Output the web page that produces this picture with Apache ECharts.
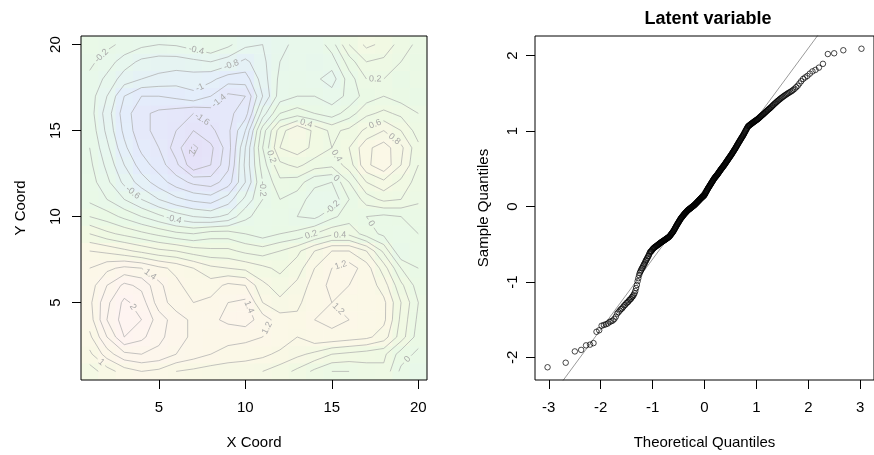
<!DOCTYPE html>
<html><head><meta charset="utf-8">
<script src="https://cdn.jsdelivr.net/npm/echarts@6/dist/echarts.min.js"></script>
<style>html,body{margin:0;padding:0;background:#fff}#c{width:874px;height:455px}</style>
</head><body><div id="c"></div>
<script>
// ---------------- DATA ----------------
const xCoords = [1,2,3,4,5,6,7,8,9,10,11,12,13,14,15,16,17,18,19,20];
const yCoords = [1,2,3,4,5,6,7,8,9,10,11,12,13,14,15,16,17,18,19,20];
// latent surface, one row per Y coordinate (values for X = 1..20)
const z_y20 = [-0.05,-0.15,-0.25,-0.35,-0.4,-0.38,-0.3,-0.2,-0.35,-0.55,-0.6,-0.45,-0.35,-0.35,-0.1,0.4,0.65,0.55,0.3,0.15];
const z_y19 = [-0.15,-0.3,-0.5,-0.65,-0.7,-0.7,-0.65,-0.6,-0.7,-0.85,-0.65,-0.4,-0.3,-0.4,-0.3,0.1,0.4,0.35,0.2,0.1];
const z_y18 = [-0.25,-0.45,-0.7,-0.8,-0.85,-0.9,-0.9,-0.95,-1.1,-1.1,-0.7,-0.35,-0.25,-0.35,-0.5,-0.1,0.2,0.2,0.0,0.15];
const z_y17 = [-0.3,-0.6,-1.0,-1.2,-1.2,-1.15,-1.05,-1.2,-1.45,-1.4,-0.8,-0.3,-0.2,-0.2,-0.3,-0.15,0.1,0.2,0.1,0.0];
const z_y16 = [-0.3,-0.7,-1.1,-1.35,-1.45,-1.5,-1.6,-1.5,-1.45,-1.3,-0.5,0.0,0.1,0.0,-0.1,0.1,0.35,0.45,0.35,0.2];
const z_y15 = [-0.25,-0.65,-1.05,-1.35,-1.45,-1.6,-1.8,-1.65,-1.45,-1.0,-0.1,0.5,0.8,0.55,0.35,0.45,0.65,0.8,0.6,0.3];
const z_y14 = [-0.2,-0.55,-0.95,-1.25,-1.4,-1.7,-2.05,-1.85,-1.5,-0.8,0.0,0.6,0.7,0.55,0.4,0.6,0.95,1.1,0.85,0.45];
const z_y13 = [-0.15,-0.45,-0.8,-1.1,-1.3,-1.55,-1.95,-1.8,-1.45,-0.75,-0.1,0.35,0.45,0.3,0.25,0.5,0.95,1.15,0.8,0.4];
const z_y12 = [-0.1,-0.35,-0.65,-0.9,-1.1,-1.3,-1.45,-1.5,-1.3,-0.8,-0.2,0.15,0.1,-0.15,-0.2,0.2,0.6,0.75,0.55,0.3];
const z_y11 = [-0.05,-0.2,-0.4,-0.6,-0.8,-0.95,-1.05,-1.1,-0.9,-0.55,-0.2,0.0,-0.1,-0.3,-0.35,0.0,0.3,0.45,0.4,0.25];
const z_y10 = [0.2,0.1,-0.05,-0.2,-0.35,-0.5,-0.6,-0.65,-0.55,-0.25,-0.1,-0.05,-0.2,-0.25,-0.05,0.1,0.0,-0.05,0.0,0.05];
const z_y09 = [0.6,0.45,0.35,0.25,0.15,0.05,0.0,0.1,0.1,0.0,-0.1,0.0,0.05,0.2,0.35,0.35,0.1,-0.05,-0.1,0.0];
const z_y08 = [1.0,0.95,0.85,0.75,0.65,0.6,0.5,0.45,0.45,0.35,0.3,0.4,0.55,0.8,1.0,1.0,0.8,0.35,-0.2,-0.05];
const z_y07 = [1.2,1.35,1.45,1.4,1.25,1.15,1.0,0.85,0.8,0.75,0.65,0.55,0.7,1.0,1.2,1.3,1.1,0.7,0.2,0.0];
const z_y06 = [1.3,1.6,1.85,1.75,1.45,1.25,1.1,1.1,1.25,1.2,0.85,0.7,0.85,1.1,1.25,1.2,1.15,0.9,0.45,0.1];
const z_y05 = [1.35,1.75,2.05,1.9,1.5,1.3,1.2,1.25,1.4,1.45,1.0,0.85,0.95,1.15,1.2,1.15,1.15,1.05,0.6,0.2];
const z_y04 = [1.3,1.8,2.1,2.0,1.7,1.5,1.35,1.35,1.45,1.5,1.3,1.1,1.05,1.2,1.25,1.2,1.15,1.05,0.55,0.15];
const z_y03 = [1.15,1.6,2.0,1.85,1.65,1.5,1.35,1.25,1.25,1.25,1.2,1.15,1.0,1.15,1.15,1.1,1.05,0.9,0.5,0.1];
const z_y02 = [0.95,1.3,1.55,1.6,1.55,1.4,1.3,1.2,1.15,1.1,1.05,0.95,0.85,0.75,0.6,0.55,0.5,0.45,0.1,-0.05];
const z_y01 = [0.7,0.9,1.1,1.2,1.15,1.0,0.95,0.9,0.85,0.85,0.8,0.7,0.55,0.35,0.2,0.2,0.3,0.35,-0.05,-0.2];
const contourLevels = [-2.0,-1.8,-1.6,-1.4,-1.2,-1.0,-0.8,-0.6,-0.4,-0.2,0,0.2,0.4,0.6,0.8,1.0,1.2,1.4,1.6,1.8,2.0];
const leftXTicks = [5,10,15,20];
const leftYTicks = [5,10,15,20];
// QQ plot: sample values of the latent variable (n = 400)
const sampleQuantiles = [
-2.13,-2.07,-1.92,-1.90,-1.84,-1.83,-1.81,-1.66,-1.64,
-1.58,-1.57,-1.56,-1.55,-1.53,-1.52,-1.51,-1.49,-1.46,-1.42,-1.40,
-1.38,-1.36,-1.35,-1.33,-1.31,-1.30,-1.28,-1.27,-1.26,-1.24,-1.23,-1.22,-1.20,-1.19,-1.17,-1.15,-1.12,-1.08,-1.04,-0.99,-0.95,-0.91,-0.88,-0.86,
-0.84,-0.82,-0.81,-0.79,-0.77,-0.76,
-0.74,-0.72,-0.71,-0.69,-0.68,-0.66,-0.65,-0.63,-0.61,-0.60,
-0.595,-0.59,-0.575,-0.565,-0.56,-0.55,-0.545,-0.54,-0.535,-0.53,
-0.525,-0.52,-0.515,-0.51,-0.505,-0.50,-0.495,-0.49,-0.485,-0.48,
-0.476,-0.472,-0.468,-0.464,-0.46,-0.456,-0.452,-0.448,-0.444,-0.44,
-0.436,-0.432,-0.428,-0.424,-0.42,-0.416,-0.412,-0.408,-0.404,-0.40,
-0.393,-0.386,-0.379,-0.372,-0.365,-0.358,-0.351,-0.344,-0.337,-0.33,
-0.321,-0.312,-0.303,-0.294,-0.285,-0.276,-0.267,-0.258,-0.249,-0.24,
-0.232,-0.224,-0.216,-0.208,-0.2,-0.192,-0.184,-0.176,-0.168,-0.16,
-0.154,-0.148,-0.142,-0.136,-0.13,-0.124,-0.118,-0.112,-0.106,-0.1,
-0.095,-0.09,-0.085,-0.08,-0.075,-0.07,-0.065,-0.06,-0.055,-0.05,
-0.047,-0.043,-0.04,-0.036,-0.033,-0.029,-0.026,-0.022,-0.019,-0.015,
-0.011,-0.008,-0.004,-0.001,0.003,0.006,0.01,0.013,0.017,0.02,
0.025,0.029,0.034,0.038,0.043,0.047,0.052,0.056,0.061,0.065,
0.07,0.074,0.079,0.083,0.088,0.092,0.097,0.101,0.106,0.11,
0.114,0.118,0.122,0.126,0.13,0.134,0.138,0.142,0.146,0.15,
0.158,0.166,0.174,0.182,0.19,0.198,0.206,0.214,0.222,0.23,
0.237,0.244,0.251,0.258,0.265,0.272,0.279,0.286,0.293,0.3,
0.307,0.314,0.321,0.328,0.335,0.342,0.349,0.356,0.363,0.37,
0.376,0.381,0.387,0.392,0.398,0.403,0.409,0.414,0.42,0.425,
0.432,0.438,0.445,0.451,0.458,0.464,0.471,0.477,0.484,0.49,
0.496,0.502,0.508,0.514,0.52,0.526,0.532,0.538,0.544,0.55,
0.557,0.564,0.571,0.578,0.585,0.592,0.599,0.606,0.613,0.62,
0.627,0.634,0.641,0.648,0.655,0.662,0.669,0.676,0.683,0.69,
0.698,0.706,0.714,0.722,0.73,0.738,0.746,0.754,0.762,0.77,
0.779,0.788,0.797,0.806,0.815,0.824,0.833,0.842,0.851,0.86,
0.869,0.878,0.887,0.896,0.905,0.914,0.923,0.932,0.941,0.95,
0.961,0.972,0.983,0.994,1.005,1.016,1.027,1.038,1.049,1.06,
1.065,1.07,1.075,1.08,1.085,1.09,1.095,1.1,1.105,1.11,
1.115,1.12,1.125,1.13,1.135,1.14,1.145,1.15,1.155,1.16,
1.167,1.174,1.181,1.188,1.195,1.202,1.209,1.216,1.223,1.23,
1.238,1.246,1.254,1.262,1.27,1.278,1.286,1.294,1.302,1.31,
1.32,1.33,1.34,1.35,1.36,1.37,1.38,1.39,1.4,1.41,
1.42,1.43,1.44,1.45,1.46,1.47,1.48,1.49,1.5,1.51,
1.52,1.53,1.545,1.56,1.58,1.6,1.63,1.66,1.69,1.71,
1.73,1.76,1.79,1.81,1.84,1.89,2.02,2.03,2.07,2.09];
const qqXTicks = [-3,-2,-1,0,1,2,3];
const qqYTicks = [-2,-1,0,1,2];

// ---------------- HELPERS ----------------
const FONT = '"Liberation Sans", Arial, Helvetica, sans-serif';
const zRows = [z_y01,z_y02,z_y03,z_y04,z_y05,z_y06,z_y07,z_y08,z_y09,z_y10,z_y11,z_y12,z_y13,z_y14,z_y15,z_y16,z_y17,z_y18,z_y19,z_y20];

function qnorm(p){
  const a=[-3.969683028665376e+01,2.209460984245205e+02,-2.759285104469687e+02,1.383577518672690e+02,-3.066479806614716e+01,2.506628277459239e+00];
  const b=[-5.447609879822406e+01,1.615858368580409e+02,-1.556989798598866e+02,6.680131188771972e+01,-1.328068155288572e+01];
  const c=[-7.784894002430293e-03,-3.223964580411365e-01,-2.400758277161838e+00,-2.549732539343734e+00,4.374664141464968e+00,2.938163982698783e+00];
  const d=[7.784695709041462e-03,3.224671290700398e-01,2.445134137142996e+00,3.754408661907416e+00];
  const pl=0.02425, ph=1-pl; let q,r;
  if(p<pl){q=Math.sqrt(-2*Math.log(p));return (((((c[0]*q+c[1])*q+c[2])*q+c[3])*q+c[4])*q+c[5])/((((d[0]*q+d[1])*q+d[2])*q+d[3])*q+1);}
  if(p<=ph){q=p-0.5;r=q*q;return (((((a[0]*r+a[1])*r+a[2])*r+a[3])*r+a[4])*r+a[5])*q/(((((b[0]*r+b[1])*r+b[2])*r+b[3])*r+b[4])*r+1);}
  q=Math.sqrt(-2*Math.log(1-p));return -(((((c[0]*q+c[1])*q+c[2])*q+c[3])*q+c[4])*q+c[5])/((((d[0]*q+d[1])*q+d[2])*q+d[3])*q+1);
}

// heat cells
const cells=[];
for(let j=0;j<yCoords.length;j++) for(let i=0;i<xCoords.length;i++) cells.push([xCoords[i],yCoords[j],zRows[j][i]]);

// marching squares contours
function contourPaths(L0){
  const L=L0+1e-9, nx=xCoords.length, ny=yCoords.length, segs=[];
  for(let j=0;j<ny-1;j++) for(let i=0;i<nx-1;i++){
    const z0=zRows[j][i], z1=zRows[j][i+1], z2=zRows[j+1][i+1], z3=zRows[j+1][i];
    const x0=xCoords[i], x1=xCoords[i+1], y0=yCoords[j], y1=yCoords[j+1];
    const b0=z0>=L,b1=z1>=L,b2=z2>=L,b3=z3>=L;
    const E=[null,null,null,null];
    if(b0!==b1) E[0]={k:'h'+i+'_'+j, p:[x0+(L-z0)/(z1-z0)*(x1-x0), y0]};
    if(b1!==b2) E[1]={k:'v'+(i+1)+'_'+j, p:[x1, y0+(L-z1)/(z2-z1)*(y1-y0)]};
    if(b3!==b2) E[2]={k:'h'+i+'_'+(j+1), p:[x0+(L-z3)/(z2-z3)*(x1-x0), y1]};
    if(b0!==b3) E[3]={k:'v'+i+'_'+j, p:[x0, y0+(L-z0)/(z3-z0)*(y1-y0)]};
    const idx=[0,1,2,3].filter(e=>E[e]);
    if(idx.length===2) segs.push([E[idx[0]],E[idx[1]]]);
    else if(idx.length===4){
      const c=(z0+z1+z2+z3)/4>=L;
      if(b0){ if(c){segs.push([E[0],E[1]]);segs.push([E[2],E[3]]);} else {segs.push([E[3],E[0]]);segs.push([E[1],E[2]]);} }
      else { if(c){segs.push([E[3],E[0]]);segs.push([E[1],E[2]]);} else {segs.push([E[0],E[1]]);segs.push([E[2],E[3]]);} }
    }
  }
  const adj=new Map();
  segs.forEach((s,si)=>{for(const e of s){if(!adj.has(e.k))adj.set(e.k,[]);adj.get(e.k).push(si);}});
  const used=new Array(segs.length).fill(false);
  function chain(si,ei){
    const pts=[segs[si][ei].p]; let cur=si, enter=ei;
    while(true){
      used[cur]=true;
      const ex=segs[cur][1-enter]; pts.push(ex.p);
      const nb=adj.get(ex.k).filter(s=>!used[s]);
      if(!nb.length) break;
      cur=nb[0]; enter=segs[cur][0].k===ex.k?0:1;
    }
    return pts;
  }
  const paths=[];
  for(const [k,list] of adj){ if(list.length===1 && !used[list[0]]){ const si=list[0]; paths.push(chain(si, segs[si][0].k===k?0:1)); } }
  for(let si=0;si<segs.length;si++) if(!used[si]) paths.push(chain(si,0));
  return paths;
}
function cumLen(pts){const c=[0];for(let k=1;k<pts.length;k++)c.push(c[k-1]+Math.hypot(pts[k][0]-pts[k-1][0],pts[k][1]-pts[k-1][1]));return c;}
function pointAt(pts,c,s){
  const L=c[c.length-1]; if(s<=0) return pts[0].slice(); if(s>=L) return pts[pts.length-1].slice();
  let k=1; while(c[k]<s) k++;
  const t=(s-c[k-1])/((c[k]-c[k-1])||1);
  return [pts[k-1][0]+t*(pts[k][0]-pts[k-1][0]), pts[k-1][1]+t*(pts[k][1]-pts[k-1][1])];
}
function subPath(pts,c,s0,s1){const out=[pointAt(pts,c,s0)];for(let k=0;k<pts.length;k++) if(c[k]>s0&&c[k]<s1) out.push(pts[k]); out.push(pointAt(pts,c,s1)); return out;}
function textW(t){let w=0;for(const ch of t) w+= ch==='-'?3.0:(ch==='.'?2.5:5.0);return w;}
function fmt(v){const r=Math.round(v*10)/10; return (r===0?'0':String(r));}

const PXU = 17.27;
const contourPieces=[], contourLabels=[];
for(const lev of contourLevels){
  const txt=fmt(lev);
  const hw=(textW(txt)/2+2.5)/PXU;
  for(const pts of contourPaths(lev)){
    const c=cumLen(pts), L=c[c.length-1];
    const closed = Math.hypot(pts[0][0]-pts[pts.length-1][0], pts[0][1]-pts[pts.length-1][1])<1e-6;
    let best=null;
    if(L>=2*hw+0.5){
      for(let s=hw; s<=L-hw; s+=0.05){
        const a=pointAt(pts,c,s-hw), b=pointAt(pts,c,s+hw);
        const st=Math.hypot(b[0]-a[0],b[1]-a[1])/(2*hw);
        const score=st-0.15*Math.abs(s-L/2)/L;
        if(st>0.85 && (!best||score>best.score)) best={s,score,a,b};
      }
    }
    if(best){
      const p=pointAt(pts,c,best.s);
      const clash=contourLabels.some(l=>Math.hypot(l.p[0]-p[0],l.p[1]-p[1])<1.25);
      if(clash) best=null; else {
        let ang=Math.atan2(best.b[1]-best.a[1], best.b[0]-best.a[0]);
        if(ang>Math.PI/2) ang-=Math.PI; if(ang<-Math.PI/2) ang+=Math.PI;
        contourLabels.push({p, ang, txt});
      }
    }
    if(!best){ contourPieces.push(pts); continue; }
    const s0=best.s-hw, s1=best.s+hw;
    if(closed){ const A=subPath(pts,c,s1,L), B=subPath(pts,c,0,s0); contourPieces.push(A.concat(B.slice(1))); }
    else { if(s0>0) contourPieces.push(subPath(pts,c,0,s0)); if(s1<L) contourPieces.push(subPath(pts,c,s1,L)); }
  }
}

// QQ data
const n=sampleQuantiles.length;
const sorted=sampleQuantiles.slice().sort((a,b)=>a-b);
const theo=sorted.map((_,i)=>qnorm((i+1-0.5)/n));
const qqData=theo.map((q,i)=>[q,sorted[i]]);
function quant7(arr,p){const h=(arr.length-1)*p, lo=Math.floor(h);return arr[lo]+(h-lo)*(arr[lo+1]-arr[lo]);}
const qy1=quant7(sorted,0.25), qy2=quant7(sorted,0.75), qx1=qnorm(0.25), qx2=qnorm(0.75);
const qSlope=(qy2-qy1)/(qx2-qx1), qInt=qy1-qSlope*qx1;
const xPad=(theo[n-1]-theo[0])*0.04, yPad=(sorted[n-1]-sorted[0])*0.04;
const qxMin=theo[0]-xPad, qxMax=theo[n-1]+xPad, qyMin=sorted[0]-yPad, qyMax=sorted[n-1]+yPad;

// ---------------- CHART ----------------
const chart=echarts.init(document.getElementById('c'),null,{renderer:'canvas',width:874,height:455});
const tickStyle={color:'#000',width:1};
const lblStyle={color:'#000',fontSize:15,fontFamily:FONT};
const nameStyle={color:'#000',fontSize:15,fontFamily:FONT};
const noLine={show:false,onZero:false};
chart.setOption({
  animation:false,
  backgroundColor:'#fff',
  grid:[
    {left:81,top:36,width:346,height:345,show:true,borderColor:'#000',borderWidth:1,backgroundColor:'transparent',z:10},
    {left:535,top:36,width:346,height:345,show:true,borderColor:'#000',borderWidth:1,backgroundColor:'transparent',z:10}
  ],
  xAxis:[
    {gridIndex:0,type:'value',min:0.5,max:20.5,axisLine:noLine,splitLine:{show:false},
     axisTick:{show:true,customValues:leftXTicks,length:9,lineStyle:tickStyle},
     axisLabel:{customValues:leftXTicks,margin:20,...lblStyle},
     name:'X Coord',nameLocation:'middle',nameGap:55,nameTextStyle:nameStyle,z:10},
    {gridIndex:1,type:'value',min:qxMin,max:qxMax,axisLine:noLine,splitLine:{show:false},
     axisTick:{show:true,customValues:qqXTicks,length:9,lineStyle:tickStyle},
     axisLabel:{customValues:qqXTicks,margin:20,...lblStyle},
     name:'Theoretical Quantiles',nameLocation:'middle',nameGap:55,nameTextStyle:nameStyle,z:10}
  ],
  yAxis:[
    {gridIndex:0,type:'value',min:0.5,max:20.5,axisLine:noLine,splitLine:{show:false},
     axisTick:{show:true,customValues:leftYTicks,length:9,lineStyle:tickStyle},
     axisLabel:{customValues:leftYTicks,margin:18,rotate:90,...lblStyle},
     name:'Y Coord',nameLocation:'middle',nameRotate:90,nameGap:53,nameTextStyle:nameStyle,z:10},
    {gridIndex:1,type:'value',min:qyMin,max:qyMax,axisLine:noLine,splitLine:{show:false},
     axisTick:{show:true,customValues:qqYTicks,length:9,lineStyle:tickStyle},
     axisLabel:{customValues:qqYTicks,margin:15,rotate:90,...lblStyle},
     name:'Sample Quantiles',nameLocation:'middle',nameRotate:90,nameGap:44,nameTextStyle:nameStyle,z:10}
  ],
  visualMap:{type:'continuous',show:false,seriesIndex:0,dimension:2,min:-2.1,max:2.1,
    inRange:{color:['#e5e1f8','#e5e6fa','#e4eefb','#e7f7ee','#e9f9e6','#f0f9e3','#fbf8e6','#fdf6ec','#fef4f1']}},
  graphic:[{type:'text',x:708,y:19,style:{text:'Latent variable',font:'bold 18px '+FONT,fill:'#000',align:'center',verticalAlign:'middle'}}],
  series:[
    {type:'custom',xAxisIndex:0,yAxisIndex:0,data:cells,encode:{x:0,y:1},clip:true,silent:true,z:1,
     renderItem(params,api){
       const x=api.value(0), y=api.value(1);
       const p0=api.coord([x-0.5,y+0.5]), p1=api.coord([x+0.5,y-0.5]);
       return {type:'rect',shape:{x:p0[0],y:p0[1],width:p1[0]-p0[0]+0.6,height:p1[1]-p0[1]+0.6},style:{fill:api.visual('color')}};
     }},
    {type:'custom',xAxisIndex:0,yAxisIndex:0,data:contourPieces.map(p=>p[0]),encode:{x:0,y:1},clip:true,silent:true,z:3,
     renderItem(params,api){
       const pts=contourPieces[params.dataIndex].map(p=>api.coord(p));
       return {type:'polyline',shape:{points:pts},style:{stroke:'#ababab',lineWidth:0.7,fill:null}};
     }},
    {type:'custom',xAxisIndex:0,yAxisIndex:0,data:contourLabels.map(l=>l.p),encode:{x:0,y:1},clip:true,silent:true,z:4,
     renderItem(params,api){
       const l=contourLabels[params.dataIndex]; const p=api.coord(l.p);
       return {type:'text',x:p[0],y:p[1],rotation:l.ang,style:{text:l.txt,fill:'#a8a8a8',font:'9px '+FONT,align:'center',verticalAlign:'middle'}};
     }},
    {type:'scatter',xAxisIndex:1,yAxisIndex:1,data:qqData,symbol:'circle',symbolSize:5.5,silent:true,z:3,
     itemStyle:{color:'rgba(0,0,0,0)',borderColor:'#000',borderWidth:0.9}},
    {type:'line',xAxisIndex:1,yAxisIndex:1,data:[[qxMin,qInt+qSlope*qxMin],[qxMax,qInt+qSlope*qxMax]],
     symbol:'none',clip:true,silent:true,z:2,lineStyle:{color:'#9a9a9a',width:1}}
  ]
});
</script></body></html>
